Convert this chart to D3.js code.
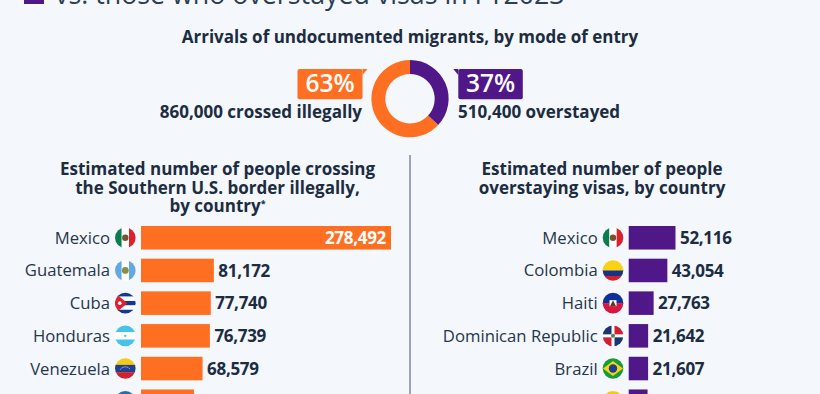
<!DOCTYPE html>
<html>
<head>
<meta charset="utf-8">
<script src="https://cdn.jsdelivr.net/npm/d3@7"></script>
<style>
  html, body { margin: 0; padding: 0; background: #f4f7fb; overflow: hidden; }
  text { font-family: "Open Sans", sans-serif; fill: #1c2c41; }
  .head { font-size: 17px; font-weight: 700; text-anchor: middle; }
  .country { font-size: 16.7px; font-weight: 400; text-anchor: end; fill: #26364a; }
  .value { font-size: 17px; font-weight: 700; letter-spacing: -0.3px; }
</style>
</head>
<body>
<div id="chart"></div>
<script>
const ORANGE = "#ff6f22";
const PURPLE = "#4f1787";

const modeLabels = ["overstayed", "crossed illegally"];
const modeShares = [37, 63];

const crossCountries = ["Mexico", "Guatemala", "Cuba", "Honduras", "Venezuela", ""];
const crossValues = [278492, 81172, 77740, 76739, 68579, 59000];
const stayCountries = ["Mexico", "Colombia", "Haiti", "Dominican Republic", "Brazil", ""];
const stayValues = [52116, 43054, 27763, 21642, 21607, 21000];

const crossFlags = ["mx", "gt", "cu", "hn", "ve", "blue"];
const stayFlags = ["mx", "co", "ht", "do", "br", "yellow"];

const width = 820;
const height = 394;

const svg = d3.select("#chart").append("svg")
  .attr("width", width)
  .attr("height", height);

const defs = svg.append("defs");

// headline, cut off by the top of the frame
svg.append("rect").attr("x", 24).attr("y", -14).attr("width", 20).attr("height", 18).attr("fill", PURPLE);
svg.append("text")
  .attr("x", 55).attr("y", 4)
  .attr("font-size", 26.8)
  .style("fill", "#2d3d52")
  .text("vs. those who overstayed visas in FY2023");

svg.append("text").attr("class", "head").attr("x", 410).attr("y", 43)
  .text("Arrivals of undocumented migrants, by mode of entry");

// donut
const pie = d3.pie().sort(null)(modeShares);
const arc = d3.arc().innerRadius(24.7).outerRadius(38.6);
svg.append("g")
  .attr("transform", "translate(410,98.7)")
  .selectAll("path")
  .data(pie)
  .join("path")
  .attr("d", arc)
  .attr("fill", (d, i) => (i === 0 ? PURPLE : ORANGE));

// callouts
function callout(x, w, color, label, side) {
  const tip = side === "left" ? x + w + 5 : x - 5;
  const edge = side === "left" ? x + w : x;
  svg.append("rect")
    .attr("x", x).attr("y", 69).attr("width", w).attr("height", 30.3).attr("rx", 2)
    .attr("fill", color);
  svg.append("path")
    .attr("d", `M${edge},69H${tip}L${edge},75Z`)
    .attr("fill", color);
  svg.append("text")
    .attr("x", x + w / 2).attr("y", 91.5)
    .attr("text-anchor", "middle")
    .attr("font-size", 24.5).attr("font-weight", 600)
    .style("fill", "#fff")
    .text(label);
}
callout(297.5, 65, ORANGE, modeShares[1] + "%", "left");
callout(458.3, 64.5, PURPLE, modeShares[0] + "%", "right");

svg.append("text").attr("x", 362).attr("y", 118).attr("text-anchor", "end")
  .attr("font-size", 17).attr("font-weight", 700).text("860,000 " + modeLabels[1]);
svg.append("text").attr("x", 458).attr("y", 118)
  .attr("font-size", 17).attr("font-weight", 700).text("510,400 " + modeLabels[0]);

// column divider
svg.append("line").attr("x1", 410).attr("x2", 410).attr("y1", 155).attr("y2", height)
  .attr("stroke", "#7d8ba0").attr("stroke-width", 1.5);

// column heads
const crossHead = ["Estimated number of people crossing", "the Southern U.S. border illegally,"];
crossHead.forEach((t, i) => {
  svg.append("text").attr("class", "head").attr("x", 217.5).attr("y", 175 + i * 18.7).text(t);
});
const lastHead = svg.append("text").attr("class", "head").attr("x", 217.5).attr("y", 212.4).text("by country");
lastHead.append("tspan").attr("dy", -5).attr("font-size", 9).text("*");

const stayHead = ["Estimated number of people", "overstaying visas, by country"];
stayHead.forEach((t, i) => {
  svg.append("text").attr("class", "head").attr("x", 602).attr("y", 175 + i * 18.7).text(t);
});

// flags are clipped circles made of plain shapes
const flagClip = defs.append("clipPath").attr("id", "flag-clip");
flagClip.append("circle").attr("r", 10.3);

function stripes(g, colors, weights) {
  const total = d3.sum(weights);
  let y = -11;
  colors.forEach((c, i) => {
    const h = 22 * weights[i] / total;
    g.append("rect").attr("x", -11).attr("y", y).attr("width", 22).attr("height", h + 0.2).attr("fill", c);
    y += h;
  });
}
function bands(g, colors) {
  colors.forEach((c, i) => {
    g.append("rect").attr("x", -11 + i * 22 / 3).attr("y", -11).attr("width", 22 / 3 + 0.2).attr("height", 22).attr("fill", c);
  });
}
const drawFlag = {
  mx(g) {
    bands(g, ["#0a7d4f", "#fff", "#d8232f"]);
    g.append("circle").attr("r", 3.2).attr("fill", "#7a5230");
  },
  gt(g) {
    bands(g, ["#64a8e0", "#fff", "#64a8e0"]);
    g.append("circle").attr("r", 3.4).attr("fill", "#8d8a4a");
  },
  cu(g) {
    stripes(g, ["#14378f", "#fff", "#14378f", "#fff", "#14378f"], [1, 1, 1, 1, 1]);
    g.append("path").attr("d", "M-11,-11L2,0L-11,11Z").attr("fill", "#e0202f");
    g.append("circle").attr("cx", -5.5).attr("r", 1.8).attr("fill", "#fff");
  },
  hn(g) {
    stripes(g, ["#45c4e8", "#fff", "#45c4e8"], [1, 1, 1]);
    g.append("circle").attr("r", 1.2).attr("fill", "#45c4e8");
  },
  ve(g) {
    stripes(g, ["#f6c915", "#1f3f8f", "#d3202f"], [1, 1, 1]);
    g.append("path").attr("d", "M-5,1A6,6 0 0 1 5,1").attr("fill", "none")
      .attr("stroke", "#fff").attr("stroke-width", 0.9).attr("stroke-dasharray", "1 1");
  },
  co(g) {
    stripes(g, ["#fbd116", "#17337f", "#d3202f"], [2, 1, 1]);
  },
  ht(g) {
    stripes(g, ["#102f9a", "#d8173f"], [1, 1]);
    g.append("rect").attr("x", -3.5).attr("y", -3).attr("width", 7).attr("height", 6).attr("fill", "#fff");
    g.append("path").attr("d", "M-3,3L0,-3L3,3Z").attr("fill", "#5b3a20");
  },
  do(g) {
    g.append("rect").attr("x", -11).attr("y", -11).attr("width", 22).attr("height", 22).attr("fill", "#fff");
    g.append("rect").attr("x", -11).attr("y", -11).attr("width", 9.5).attr("height", 9.5).attr("fill", "#17376e");
    g.append("rect").attr("x", 1.5).attr("y", -11).attr("width", 9.5).attr("height", 9.5).attr("fill", "#cf2131");
    g.append("rect").attr("x", -11).attr("y", 1.5).attr("width", 9.5).attr("height", 9.5).attr("fill", "#cf2131");
    g.append("rect").attr("x", 1.5).attr("y", 1.5).attr("width", 9.5).attr("height", 9.5).attr("fill", "#17376e");
    g.append("circle").attr("r", 2).attr("fill", "#5e7d50");
  },
  br(g) {
    g.append("rect").attr("x", -11).attr("y", -11).attr("width", 22).attr("height", 22).attr("fill", "#169b3c");
    g.append("path").attr("d", "M-10,0L0,-7.5L10,0L0,7.5Z").attr("fill", "#fcd116");
    g.append("circle").attr("r", 4.2).attr("fill", "#1b3f8f");
  },
  blue(g) {
    g.append("rect").attr("x", -11).attr("y", -11).attr("width", 22).attr("height", 22).attr("fill", "#1f6fb5");
  },
  yellow(g) {
    g.append("rect").attr("x", -11).attr("y", -11).attr("width", 22).attr("height", 22).attr("fill", "#f6c915");
  },
};

// same scale on both sides
const x = d3.scaleLinear().domain([0, 278492]).range([0, 250]);
const fmt = d3.format(",");

function drawColumn({ countries, values, flags, color, left }) {
  const y = d3.scaleBand()
    .domain(d3.range(values.length))
    .range([226, 226 + 32.7 * values.length - 9.2])
    .paddingInner(0.28)
    .paddingOuter(0);

  const g = svg.append("g");

  g.selectAll("rect")
    .data(values)
    .join("rect")
    .attr("x", left)
    .attr("y", (d, i) => y(i))
    .attr("width", (d) => x(d))
    .attr("height", y.bandwidth())
    .attr("fill", color);

  values.forEach((v, i) => {
    const cy = y(i) + y.bandwidth() / 2;
    const flag = g.append("g")
      .attr("transform", `translate(${left - 15.7},${cy})`)
      .append("g")
      .attr("clip-path", "url(#flag-clip)");
    drawFlag[flags[i]](flag);

    if (countries[i]) {
      g.append("text").attr("class", "country")
        .attr("x", left - 31).attr("y", cy + 6)
        .text(countries[i]);
      const big = x(v) > 200;
      g.append("text").attr("class", "value")
        .attr("x", big ? left + x(v) - 5 : left + x(v) + 4.5)
        .attr("y", cy + 6.2)
        .attr("text-anchor", big ? "end" : "start")
        .style("fill", big ? "#fff" : "#1c2c41")
        .text(fmt(v));
    }
  });
}

drawColumn({ countries: crossCountries, values: crossValues, flags: crossFlags, color: ORANGE, left: 141 });
drawColumn({ countries: stayCountries, values: stayValues, flags: stayFlags, color: PURPLE, left: 628.7 });
</script>
</body>
</html>
